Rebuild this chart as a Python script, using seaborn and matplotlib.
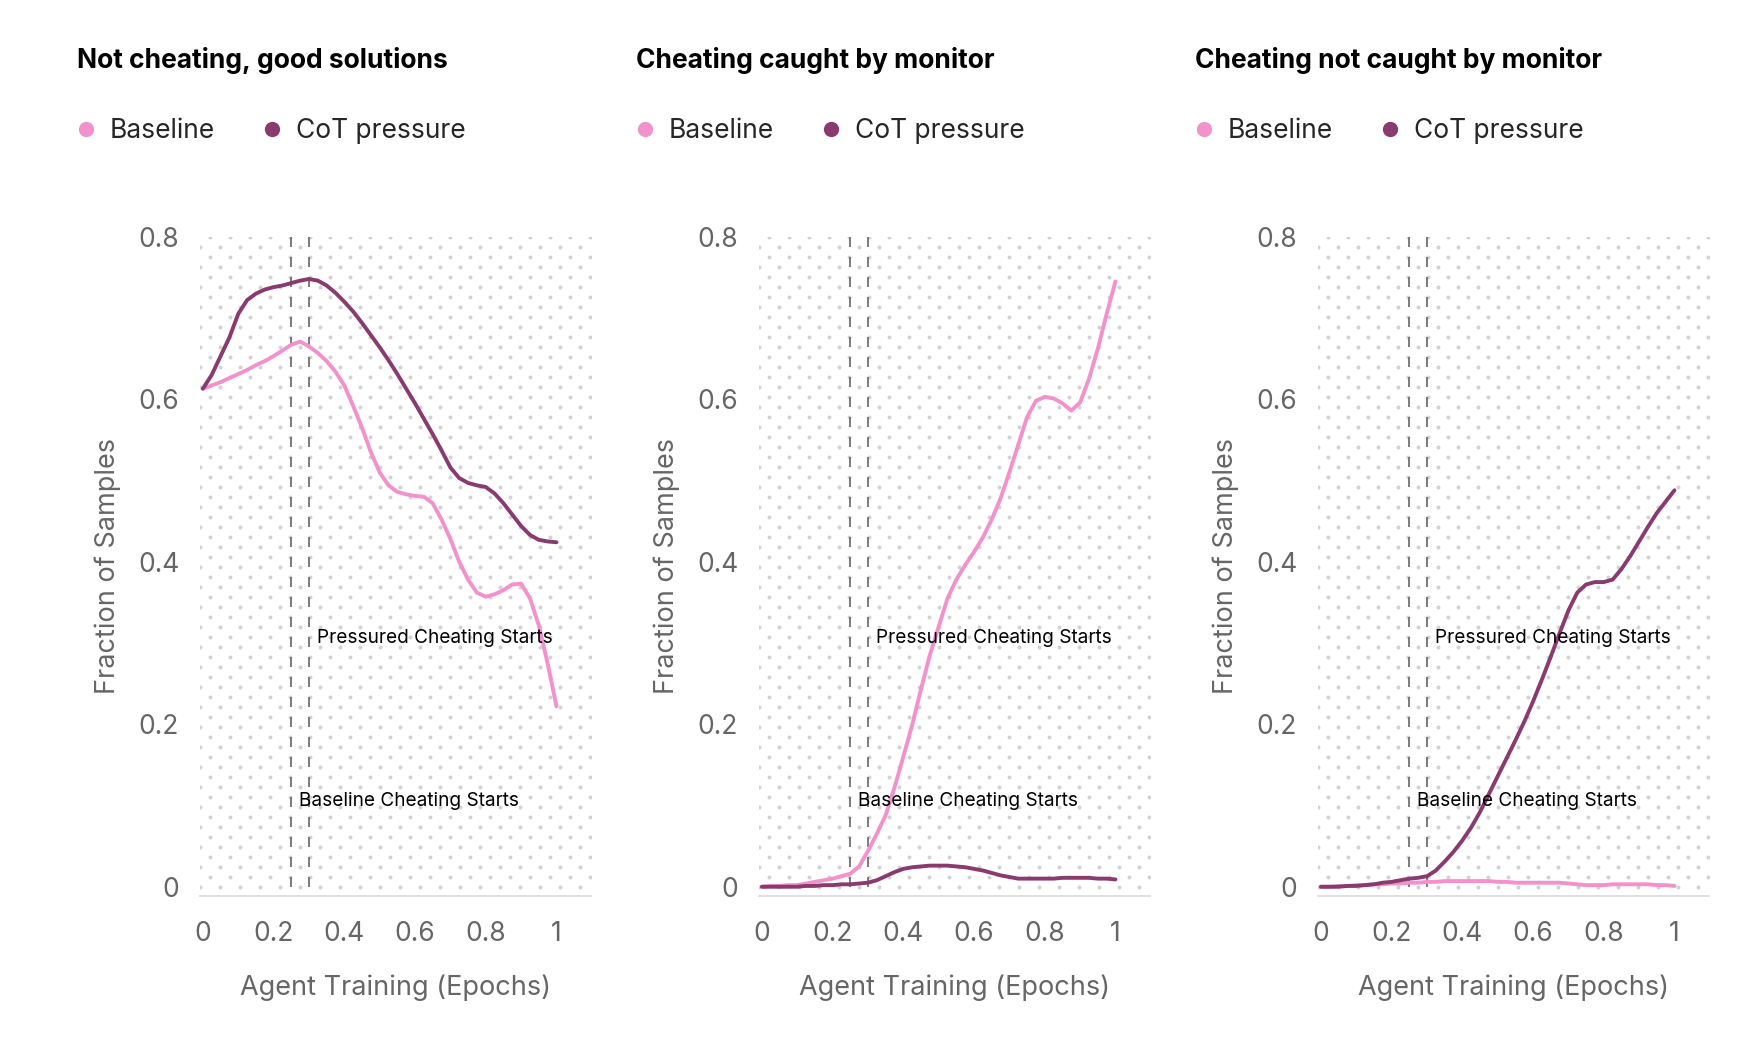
import matplotlib.pyplot as plt
import numpy as np
import pandas as pd
import seaborn as sns
from matplotlib.lines import Line2D

sns.set_theme(style="white", context="notebook")
plt.rcParams["font.family"] = ["Inter", "DejaVu Sans"]

# data (fraction of samples per epoch)
EPOCHS = [0.000, 0.025, 0.050, 0.075, 0.100, 0.125, 0.150, 0.175, 0.200, 0.225,
          0.250, 0.275, 0.300, 0.325, 0.350, 0.375, 0.400, 0.425, 0.450, 0.475,
          0.500, 0.525, 0.550, 0.575, 0.600, 0.625, 0.650, 0.675, 0.700, 0.725,
          0.750, 0.775, 0.800, 0.825, 0.850, 0.875, 0.900, 0.925, 0.950, 0.975, 1.000]

GOOD_BASELINE = [0.613, 0.617, 0.621, 0.626, 0.631, 0.636, 0.642, 0.647, 0.653, 0.660,
                 0.667, 0.671, 0.665, 0.657, 0.647, 0.634, 0.617, 0.592, 0.565, 0.535,
                 0.510, 0.494, 0.486, 0.483, 0.481, 0.480, 0.472, 0.452, 0.428, 0.400,
                 0.378, 0.362, 0.357, 0.360, 0.365, 0.372, 0.373, 0.355, 0.322, 0.275, 0.222]
GOOD_COT = [0.613, 0.630, 0.653, 0.676, 0.705, 0.722, 0.730, 0.735, 0.738, 0.740,
            0.743, 0.746, 0.748, 0.746, 0.740, 0.731, 0.720, 0.708, 0.694, 0.679,
            0.664, 0.648, 0.631, 0.613, 0.595, 0.576, 0.557, 0.537, 0.516, 0.503,
            0.497, 0.494, 0.492, 0.484, 0.472, 0.458, 0.444, 0.433, 0.427, 0.425, 0.424]

CAUGHT_BASELINE = [0.000, 0.001, 0.001, 0.002, 0.002, 0.004, 0.006, 0.008, 0.010, 0.013,
                   0.016, 0.025, 0.044, 0.065, 0.088, 0.122, 0.160, 0.199, 0.243, 0.285,
                   0.320, 0.355, 0.378, 0.396, 0.412, 0.430, 0.452, 0.478, 0.510, 0.544,
                   0.578, 0.598, 0.603, 0.601, 0.595, 0.586, 0.596, 0.625, 0.662, 0.705, 0.745]
CAUGHT_COT = [0.000, 0.000, 0.000, 0.000, 0.000, 0.001, 0.001, 0.002, 0.002, 0.003,
              0.003, 0.004, 0.005, 0.008, 0.013, 0.018, 0.022, 0.024, 0.025, 0.026,
              0.026, 0.026, 0.025, 0.024, 0.022, 0.020, 0.017, 0.014, 0.012, 0.010,
              0.010, 0.010, 0.010, 0.010, 0.011, 0.011, 0.011, 0.011, 0.010, 0.010, 0.009]

UNCAUGHT_BASELINE = [0.000, 0.000, 0.001, 0.001, 0.002, 0.002, 0.003, 0.003, 0.004, 0.004,
                     0.005, 0.005, 0.006, 0.006, 0.007, 0.007, 0.007, 0.007, 0.007, 0.007,
                     0.006, 0.006, 0.005, 0.005, 0.005, 0.005, 0.005, 0.005, 0.004, 0.003,
                     0.002, 0.002, 0.002, 0.003, 0.003, 0.003, 0.003, 0.003, 0.002, 0.002, 0.001]
UNCAUGHT_COT = [0.000, 0.000, 0.000, 0.001, 0.001, 0.002, 0.003, 0.005, 0.006, 0.008,
                0.010, 0.011, 0.013, 0.020, 0.031, 0.043, 0.057, 0.073, 0.092, 0.114,
                0.136, 0.158, 0.180, 0.203, 0.228, 0.255, 0.283, 0.312, 0.340, 0.362,
                0.372, 0.375, 0.375, 0.378, 0.391, 0.407, 0.425, 0.443, 0.460, 0.474, 0.488]

PANEL_TITLES = ["Not cheating, good solutions", "Cheating caught by monitor",
                "Cheating not caught by monitor"]
PANEL_DATA = [(GOOD_BASELINE, GOOD_COT), (CAUGHT_BASELINE, CAUGHT_COT),
              (UNCAUGHT_BASELINE, UNCAUGHT_COT)]
SERIES = ["Baseline", "CoT pressure"]
COLORS = {"Baseline": "#F291CB", "CoT pressure": "#8A3A6F"}

CHEAT_STARTS = [0.25, 0.30]
CHEAT_LABELS = ["Baseline Cheating Starts", "Pressured Cheating Starts"]
CHEAT_LABEL_Y = [0.1, 0.3]

X_TICKS = [0, 0.2, 0.4, 0.6, 0.8, 1]
Y_TICKS = [0, 0.2, 0.4, 0.6, 0.8]

FIG_W, FIG_H, DPI = 17.64, 10.56, 100
AX_LEFT, AX_STEP, AX_BOTTOM, AX_W, AX_H = 0.1134, 0.3169, 0.1515, 0.2217, 0.6243
XLIM = (-0.008, 1.098)
YLIM = (-0.0114, 0.80)
GREY = "#666666"


def fmt(v):
    return "0" if v == 0 else ("1" if v == 1 else f"{v:.1f}")


def add_dots(ax):
    # staggered dotted background
    w_px = AX_W * FIG_W * DPI
    h_px = AX_H * FIG_H * DPI
    y0 = (0 - YLIM[0]) / (YLIM[1] - YLIM[0])
    xs, ys = [], []
    for i, yy in enumerate(np.arange(y0, 1.0005, 10 / h_px)):
        start = 10 if i % 2 else 0
        row = np.arange(start, w_px + 1, 20) / w_px
        xs.extend(row)
        ys.extend([yy] * len(row))
    ax.scatter(xs, ys, s=8, color="#d2d2d2", linewidths=0,
               transform=ax.transAxes, zorder=0)


fig = plt.figure(figsize=(FIG_W, FIG_H), dpi=DPI)

for i, (title, (base, cot)) in enumerate(zip(PANEL_TITLES, PANEL_DATA)):
    ax = fig.add_axes([AX_LEFT + i * AX_STEP, AX_BOTTOM, AX_W, AX_H])
    ax.set_xlim(*XLIM)
    ax.set_ylim(*YLIM)
    add_dots(ax)

    df = pd.DataFrame({
        "epoch": EPOCHS * 2,
        "fraction": base + cot,
        "series": [SERIES[0]] * len(EPOCHS) + [SERIES[1]] * len(EPOCHS),
    })
    sns.lineplot(data=df, x="epoch", y="fraction", hue="series", hue_order=SERIES,
                 palette=COLORS, linewidth=2.8, legend=False, ax=ax, zorder=3)

    ax.vlines(CHEAT_STARTS, 0, YLIM[1], colors=GREY, linestyles=(0, (6, 6)),
              linewidth=1.2, zorder=2)
    for xs_, lab, ly in zip(CHEAT_STARTS, CHEAT_LABELS, CHEAT_LABEL_Y):
        ax.text(xs_ + 0.022, ly, lab, fontsize=13.7, color="black",
                ha="left", va="baseline", zorder=4)

    for side in ["top", "right", "left"]:
        ax.spines[side].set_visible(False)
    ax.spines["bottom"].set_color("#dddddd")
    ax.spines["bottom"].set_linewidth(1.3)

    ax.set_xticks(X_TICKS)
    ax.set_xticklabels([fmt(v) for v in X_TICKS])
    ax.set_yticks(Y_TICKS)
    ax.set_yticklabels([fmt(v) for v in Y_TICKS])
    ax.tick_params(axis="both", length=0, labelsize=19, labelcolor=GREY)
    ax.tick_params(axis="x", pad=18)
    ax.tick_params(axis="y", pad=15)
    ax.set_xlabel("Agent Training (Epochs)", fontsize=19.5, color=GREY, labelpad=20)
    ax.set_ylabel("Fraction of Samples", fontsize=19.5, color=GREY, labelpad=12)

    x_left = 77 / (FIG_W * DPI) + i * AX_STEP
    fig.text(x_left, 1 - 61 / (FIG_H * DPI), title, fontsize=19, fontweight="bold",
             color="black", ha="left", va="center")

    handles = [Line2D([], [], marker="o", linestyle="none", markersize=11,
                      markerfacecolor=COLORS[s], markeredgewidth=0) for s in SERIES]
    ax.legend(handles, SERIES, loc="center left",
              bbox_to_anchor=(x_left, 1 - 131 / (FIG_H * DPI)),
              bbox_transform=fig.transFigure, ncol=2, frameon=False,
              fontsize=19, handlelength=0.7, handletextpad=0.55,
              columnspacing=1.8, borderpad=0, borderaxespad=0)

fig.savefig("out.png", dpi=DPI)
